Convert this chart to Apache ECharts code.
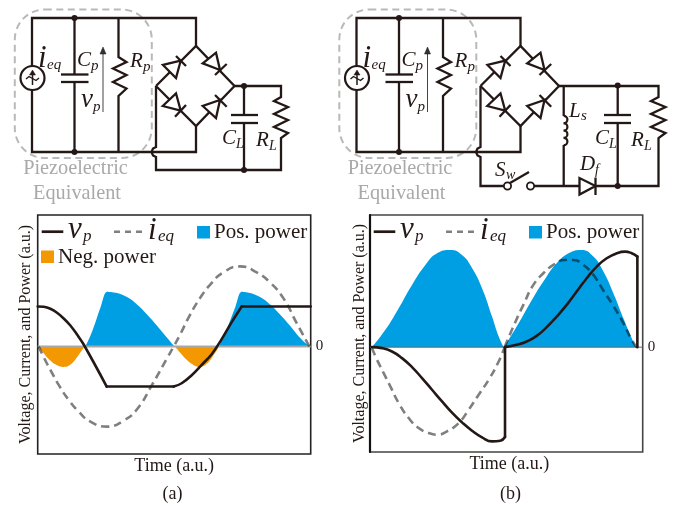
<!DOCTYPE html>
<html><head><meta charset="utf-8">
<style>html,body{margin:0;padding:0;background:#fff}#c{width:673px;height:506px}</style>
<script src="https://cdn.jsdelivr.net/npm/echarts@6/dist/echarts.min.js"></script>
</head><body><div id="c"></div>
<script>
// ---- chart values (time, value in a.u.) ----
const a_vp_fall = [[0,120],[18,119],[38,113],[58,101],[78,84],[98,63],[118,36],[138,6],[207,-120]];
const a_vp_low = [[207,-120],[408,-120]];
const a_vp_rise = [[408,-120],[432,-110],[462,-86],[492,-55],[522,-23],[552,22],[582,73],[612,120]];
const a_vp_high = [[612,120],[819,120]];
const a_ieq = [[3,0],[20,-36],[38,-70],[63,-115],[93,-160],[123,-195],[158,-225],[208,-240],[258,-222],[298,-188],[343,-115],[388,-35],[408,0],[427,35],[457,95],[487,145],[517,185],[557,222],[607,240],[657,222],[697,192],[737,145],[777,70],[815,0]];
const a_pos1_rise = [[143,0],[158,32],[173,72],[188,116],[208,164],[213,163]];
const a_pos1_fall = [[208,164],[238,160],[268,148],[298,126],[328,96],[358,62],[388,26],[410,0]];
const a_pos2_rise = [[544,0],[557,28],[572,64],[592,116],[612,164],[617,163]];
const a_pos2_fall = [[612,164],[637,160],[667,148],[697,126],[727,96],[757,62],[787,26],[815,0]];
const a_neg1 = [[3,0],[18,-20],[38,-42],[58,-56],[78,-61],[98,-54],[118,-32],[140,0]];
const a_neg2 = [[412,0],[427,-18],[447,-40],[467,-55],[487,-61],[507,-52],[527,-27],[544,0]];
const b_vp_1 = [[6,0],[36,-3],[66,-13],[96,-33],[126,-60],[156,-93],[186,-128],[216,-163],[246,-197],[276,-226],[306,-251],[336,-271],[366,-283],[391,-281],[405,-270]];
const b_vp_drop1 = [[405,-270],[405,0]];
const b_vp_2 = [[405,0],[440,7],[470,17],[500,34],[530,60],[560,92],[590,127],[620,167],[650,207],[680,242],[710,267],[740,282],[765,287],[785,282],[802,272]];
const b_vp_drop2 = [[802,272],[802,0]];
const b_ieq_1 = [[6,-3],[21,-38],[41,-78],[61,-118],[86,-168],[116,-213],[146,-243],[176,-258],[201,-263],[231,-253],[266,-228],[296,-188],[326,-143],[356,-98],[386,-43],[404,0]];
const b_ieq_2 = [[404,0],[430,62],[460,127],[490,187],[520,222],[550,247],[585,262],[610,262],[640,247],[670,217],[700,170],[730,124],[760,72],[785,22],[800,0]];
const b_pos1 = [[6,0],[46,52],[86,117],[126,187],[166,247],[201,282],[241,292],[276,277],[306,238],[336,177],[366,92],[386,32],[401,0]];
const b_pos2 = [[402,0],[440,62],[480,132],[520,197],[560,252],[600,284],[635,292],[670,272],[700,227],[730,162],[760,87],[785,27],[798,0]];
const zeroTick = [0];
const names = {vp:'vp', ieq:'ieq', pos:'Pos. power', neg:'Neg. power', time:'Time (a.u.)', yName:'Voltage, Current, and Power (a.u.)'};

// ---- styling ----
const SERIF='"Liberation Serif"', INK='#231815', BLUE='#009fe3', ORANGE='#f39800', GREYTXT='#a9a9a9', WIRE=2.3;
const g=[];
const line=(pts,w=WIRE,c=INK,extra={})=>g.push({type:'polyline',silent:true,shape:{points:pts},style:Object.assign({stroke:c,lineWidth:w,fill:null,lineJoin:'miter'},extra)});
const poly=(pts,fill='#fff',w=WIRE)=>g.push({type:'polygon',silent:true,shape:{points:pts},style:{fill,stroke:INK,lineWidth:w,lineJoin:'miter'}});
const dot=(x,y,r=3)=>g.push({type:'circle',silent:true,shape:{cx:x,cy:y,r},style:{fill:INK}});
const txt=(s,x,y,size,o={})=>g.push({type:'text',silent:true,x,y,style:{text:s,font:(o.it?'italic ':'')+size+'px '+SERIF,fill:o.c||'#231815',align:o.al||'left',verticalAlign:'middle'}});
const sub=(a,b,x,y,s1,s2,adv,dy)=>{txt(a,x,y,s1,{it:1});txt(b,x+adv,y+dy,s2,{it:1});};

function piezoBridge(o){
  const X=v=>v+o;
  g.push({type:'rect',silent:true,shape:{x:X(14.8),y:9.5,width:137,height:148.5,r:30},style:{fill:null,stroke:'#b9b9b9',lineWidth:2,lineDash:[7,4.5]}});
  line([[X(196),46],[X(196),18],[X(32),18],[X(32),152],[X(196),152],[X(196),126]]);
  line([[X(74.5),18],[X(74.5),74.5]]);line([[X(74.5),82],[X(74.5),152]]);
  line([[X(61),74.5],[X(88.5),74.5]]);line([[X(61),82],[X(88.5),82]]);
  dot(X(74.5),18);dot(X(74.5),152);
  line([[X(118.5),18],[X(118.5),57],[X(126.5),62],[X(113),68.5],[X(126.5),75],[X(113),82],[X(126.5),88.5],[X(118.5),96],[X(118.5),152]]);
  g.push({type:'circle',silent:true,shape:{cx:X(32.5),cy:78,r:12},style:{fill:'#fff',stroke:INK,lineWidth:2.2}});
  line([[X(32.5),85],[X(32.5),73]],1.5);
  poly([[X(32.5),70],[X(29.5),75],[X(35.5),75]],INK,0.5);
  line([[X(26),79],[X(29),76.5],[X(32.5),78.5],[X(36),80.5],[X(39),78]],1.4);
  line([[X(103),112],[X(103),52]],1,'#444');
  poly([[X(103),47],[X(100),54],[X(106),54]],'#333',0.5);
  line([[X(156),86],[X(196),46],[X(234.5),86],[X(196),126],[X(156),86]]);
  const diode=(tri,bar)=>{poly(tri.map(p=>[X(p[0]),p[1]]));line(bar.map(p=>[X(p[0]),p[1]]));};
  diode([[163,65],[176,78],[180.7,60.7]],[[176,56],[186,66]]);
  diode([[202.7,63.3],[216,52.7],[220,70]],[[215,75],[226.7,64]]);
  diode([[162.7,106],[176,93.3],[180.7,110.7]],[[175,116.7],[186,105]]);
  diode([[202.7,106],[216,118],[220,100]],[[215,95],[226.7,106.7]]);
  sub('i','eq',X(38),59,31,15,9,6);
  sub('C','p',X(77),60,21,15,14,6);
  sub('v','p',X(81),100,27,15,12,7);
  sub('R','p',X(130),61,21,15,13,6);
  txt('Piezoelectric',X(75.5),169,20.3,{c:GREYTXT,al:'center'});
  txt('Equivalent',X(77),194,20.3,{c:GREYTXT,al:'center'});
}
piezoBridge(0);
line([[156,86],[156,147],[153,148.5],[151.5,152],[153,155.5],[156,157],[156,170],[281,170],[281,138],[288,133],[274,127],[288,120],[274,114],[288,107],[274,101],[281,97],[281,86],[234.5,86]]);
line([[244,86],[244,115]]);line([[244,123],[244,170]]);
line([[231,115],[258,115]]);line([[231,123],[258,123]]);
dot(244,86);dot(244,170);
sub('C','L',222,138,21,14,14,6);
sub('R','L',256,140,21,14,13,6);
piezoBridge(324.5);
line([[480.5,86],[480.5,147],[477.5,148.5],[476,152],[477.5,155.5],[480.5,157],[480.5,186],[504,186]]);
g.push({type:'circle',silent:true,shape:{cx:507.5,cy:186,r:3.6},style:{fill:'#fff',stroke:INK,lineWidth:1.8}});
g.push({type:'circle',silent:true,shape:{cx:530.5,cy:186,r:3.6},style:{fill:'#fff',stroke:INK,lineWidth:1.8}});
line([[510,183],[529,172]]);
line([[534,186],[579,186]]);
poly([[579.5,178],[579.5,194.5],[595.5,186]]);
line([[595.5,177.5],[595.5,195]]);
line([[595.5,186],[658.5,186],[658.5,138],[665.5,133],[651,127],[665.5,120],[651,114],[665.5,107],[651,101],[658.5,97],[658.5,86],[559,86]]);
line([[563.7,86],[563.7,116]]);line([[563.7,145],[563.7,186]]);
for(const cy of [119.6,126.9,134.2,141.5]) g.push({type:'arc',silent:true,shape:{cx:563.7,cy,r:3.7,startAngle:-Math.PI/2,endAngle:Math.PI/2},style:{stroke:INK,lineWidth:2.2,fill:null}});
line([[617.7,86],[617.7,115]]);line([[617.7,123],[617.7,186]]);
line([[604,115],[631,115]]);line([[604,123],[631,123]]);
dot(617.7,85.5);dot(617.7,186);
sub('L','s',569,111,21,15,12,5);
sub('C','L',595,138,21,14,14,6);
sub('R','L',631,140,21,14,13,6);
sub('S','w',495,170,21,14,11,5);
sub('D','f',580,164,21,14,15,6);

function legend(o,neg,ox2){
  line([[o+41.7,231.7],[o+63.3,231.7]],2.7);
  sub('v','p',o+68,230,31,17,15,7);
  line([[o+114,231.7],[o+142,231.7]],2.6,'#808080',{lineDash:[6,5]});
  sub('i','eq',o+148,231,31,17,10,6);
  g.push({type:'rect',silent:true,shape:{x:ox2,y:226,width:13,height:12.5},style:{fill:BLUE}});
  txt(names.pos,ox2+17,232,21,{});
  if(neg){
    g.push({type:'rect',silent:true,shape:{x:o+41,y:250.5,width:13,height:12.5},style:{fill:ORANGE}});
    txt(names.neg,o+58,257,21,{});
  }
}
legend(0,true,197);
legend(332,false,529);
txt('(a)',172.5,494,18,{al:'center'});
txt('(b)',510.5,494,18,{al:'center'});

// ---- chart ----
const area=(name,data,color,xi,smooth=0.4)=>({type:'line',name,data,xAxisIndex:xi,yAxisIndex:xi*2,showSymbol:false,silent:true,z:1,smooth,
  lineStyle:{width:0},itemStyle:{color},areaStyle:{color,opacity:1,origin:0}});
const curve=(name,data,xi,color,w,type,smooth)=>({type:'line',name,data,xAxisIndex:xi,yAxisIndex:xi*2,showSymbol:false,silent:true,z:5,smooth,
  lineStyle:{color,width:w,type,cap:type==='solid'?'round':'butt',join:'round'},itemStyle:{color}});
const zero=(xi,c,w)=>({type:'line',name:'zero',data:[[0,0],[xi?818:819,0]],xAxisIndex:xi,yAxisIndex:xi*2,showSymbol:false,silent:true,z:2,lineStyle:{color:c,width:w}});
const yPair=(gi,min,max,gap,lineShow)=>[
  {gridIndex:gi,type:'value',min,max,position:'left',name:names.yName,nameLocation:'middle',nameGap:gap,
   nameTextStyle:{fontFamily:SERIF,fontSize:16,color:'#231815'},axisLine:{show:lineShow,onZero:false,lineStyle:{color:'#111',width:2.2}},axisTick:{show:false},axisLabel:{show:false},splitLine:{show:false}},
  {gridIndex:gi,type:'value',min,max,position:'right',axisLine:{show:false},axisTick:{show:false},splitLine:{show:false},
   axisLabel:{show:true,customValues:zeroTick,margin:5,fontFamily:SERIF,fontSize:15,color:'#231815'}}
];
const xA=(gi,max,pad)=>({gridIndex:gi,type:'value',min:0,max,name:names.time,nameLocation:'middle',nameGap:3,
   nameTextStyle:{fontFamily:SERIF,fontSize:18,color:'#231815',verticalAlign:'top',padding:[0,0,0,pad]},axisLine:{show:false,onZero:false},axisTick:{show:false},axisLabel:{show:false},splitLine:{show:false}});
const DASH=[8,5], GREYL='rgba(0,0,0,0.5)', VW=2.6;
const chart=echarts.init(document.getElementById('c'),null,{renderer:'canvas'});
chart.setOption({
  animation:false,backgroundColor:'#fff',
  grid:[
    {left:37.7,top:215,width:273,height:239,show:true,borderColor:'#222',borderWidth:1.6,backgroundColor:'transparent'},
    {left:370,top:215,width:272.7,height:237,show:true,borderColor:'#444',borderWidth:1.6,backgroundColor:'transparent'}
  ],
  xAxis:[xA(0,819,0),xA(1,818,6)],
  yAxis:[...yPair(0,-322,394,4,false),...yPair(1,-315,397,2,true)],
  series:[
    area(names.pos,a_pos1_rise,BLUE,0),area(names.pos,a_pos1_fall,BLUE,0),
    area(names.pos,a_pos2_rise,BLUE,0),area(names.pos,a_pos2_fall,BLUE,0),
    area(names.neg,a_neg1,ORANGE,0,true),area(names.neg,a_neg2,ORANGE,0,true),
    zero(0,'#a8a8a8',1.8),
    curve(names.ieq,a_ieq,0,GREYL,VW,DASH,true),
    curve(names.vp,a_vp_fall,0,INK,VW,'solid',0.4),
    curve(names.vp,a_vp_low,0,INK,VW,'solid',false),
    curve(names.vp,a_vp_rise,0,INK,VW,'solid',0.4),
    curve(names.vp,a_vp_high,0,INK,VW,'solid',false),
    area(names.pos,b_pos1,BLUE,1,true),area(names.pos,b_pos2,BLUE,1,true),
    zero(1,'#666',1),
    curve(names.ieq,b_ieq_1,1,GREYL,VW,DASH,true),
    curve(names.ieq,b_ieq_2,1,GREYL,VW,DASH,true),
    curve(names.vp,b_vp_1,1,INK,VW,'solid',0.5),
    curve(names.vp,b_vp_drop1,1,INK,VW,'solid',false),
    curve(names.vp,b_vp_2,1,INK,VW,'solid',0.5),
    curve(names.vp,b_vp_drop2,1,INK,VW,'solid',false)
  ],
  graphic:{elements:g}
});
</script></body></html>
